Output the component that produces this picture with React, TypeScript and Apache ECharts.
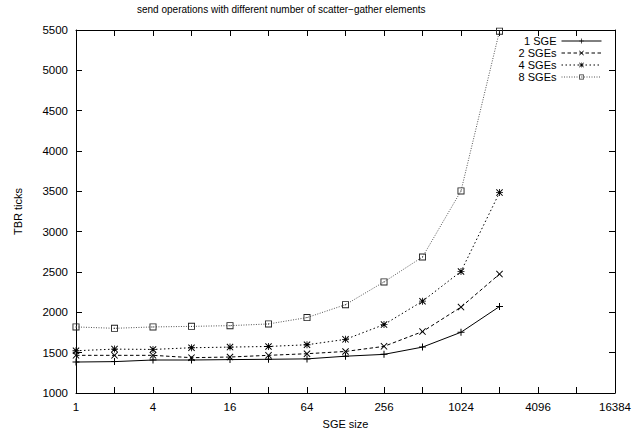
import React, { useEffect, useRef } from 'react';
import * as echarts from 'echarts';

const sgeSizes = [1, 2, 4, 8, 16, 32, 64, 128, 256, 512, 1024, 2048];
const sge1 = [1384, 1389, 1409, 1409, 1414, 1418, 1423, 1456, 1479, 1569, 1753, 2072];
const sge2 = [1467, 1467, 1467, 1438, 1446, 1467, 1487, 1515, 1578, 1761, 2065, 2474];
const sge4 = [1524, 1544, 1540, 1561, 1569, 1577, 1598, 1665, 1848, 2138, 2507, 3484];
const sge8 = [1819, 1802, 1819, 1826, 1835, 1856, 1935, 2095, 2377, 2686, 3505, 5486];
const seriesNames = ['1 SGE', '2 SGEs', '4 SGEs', '8 SGEs'];
const titleText = 'send operations with different number of scatter\u2212gather elements';

const FONT = '"Liberation Sans", Arial, Helvetica, sans-serif';

const PLUS = 'path://M3 0 H4 V3 H7 V4 H4 V7 H3 V4 H0 V3 H3 Z';
const CROSS = 'path://M0 1 L1 0 L5 4 L9 0 L10 1 L6 5 L10 9 L9 10 L5 6 L1 10 L0 9 L4 5 Z';
const STAR = 'path://M4.4 0 H5.6 V10 H4.4 Z M0 4.4 H10 V5.6 H0 Z M0 1 L1 0 L5 4 L9 0 L10 1 L6 5 L10 9 L9 10 L5 6 L1 10 L0 9 L4 5 Z';
const BOX = 'path://M0 0 H10 V10 H0 Z M1.3 1.3 V8.7 H8.7 V1.3 Z M4.3 4.3 H5.7 V5.7 H4.3 Z';

const toPairs = (vals: number[]) => sgeSizes.map((x, i) => [x, vals[i]]);

export default function App() {
  const ref = useRef<HTMLDivElement>(null);
  useEffect(() => {
    if (!ref.current) return;
    const chart = echarts.init(ref.current, undefined, { renderer: 'svg' });
    const axisLine = { show: true, lineStyle: { color: '#000', width: 1 } };
    const tick = { show: true, inside: true, length: 6, lineStyle: { color: '#000', width: 1 } };
    const xLabelFmt = (v: number) => {
      const e = Math.round(Math.log2(v));
      return e % 2 === 0 ? String(Math.round(v)) : '';
    };
    const mkSeries = (name: string, vals: number[], symbol: string, size: number, lineType: any, color: string, markColor: string) => ({
      name,
      type: 'line',
      data: toPairs(vals),
      symbol,
      symbolSize: size,
      showSymbol: true,
      lineStyle: { color, width: 1, type: lineType },
      itemStyle: { color: markColor },
      emphasis: { disabled: true },
    });
    chart.setOption({
      animation: false,
      backgroundColor: '#fff',
      title: {
        text: titleText,
        left: 132,
        top: -1,
        textStyle: { fontSize: 10, fontWeight: 'normal', color: '#000', fontFamily: FONT },
      },
      legend: {
        data: seriesNames,
        orient: 'vertical',
        right: 34,
        top: 30,
        align: 'right',
        itemWidth: 40,
        itemHeight: 6,
        itemGap: 0,
        lineStyle: { width: 1 },
        textStyle: { fontSize: 11, lineHeight: 12, color: '#000', fontFamily: FONT },
      },
      grid: { left: 76, right: 26, top: 30, bottom: 38 },
      xAxis: [
        {
          type: 'log',
          logBase: 2,
          min: 1,
          max: 16384,
          interval: 1,
          name: 'SGE size',
          nameLocation: 'middle',
          nameGap: 25,
          nameTextStyle: { fontSize: 11, color: '#000', fontFamily: FONT },
          axisLine,
          axisTick: tick,
          splitLine: { show: false },
          minorTick: { show: false },
          axisLabel: { fontSize: 11.5, color: '#000', fontFamily: FONT, margin: 8, formatter: xLabelFmt, showMinLabel: true, showMaxLabel: true },
        },
        {
          type: 'log',
          logBase: 2,
          min: 1,
          max: 16384,
          interval: 1,
          position: 'top',
          axisLine,
          axisTick: tick,
          splitLine: { show: false },
          axisLabel: { show: false },
        },
      ],
      yAxis: [
        {
          type: 'value',
          min: 1000,
          max: 5500,
          interval: 500,
          name: 'TBR ticks',
          nameLocation: 'middle',
          nameGap: 53,
          nameRotate: 90,
          nameTextStyle: { fontSize: 11, color: '#000', fontFamily: FONT },
          axisLine,
          axisTick: tick,
          splitLine: { show: false },
          axisLabel: { fontSize: 11.5, color: '#000', fontFamily: FONT, margin: 8, formatter: (v: number) => String(v) },
        },
        {
          type: 'value',
          min: 1000,
          max: 5500,
          interval: 500,
          position: 'right',
          axisLine,
          axisTick: tick,
          splitLine: { show: false },
          axisLabel: { show: false },
        },
      ],
      series: [
        mkSeries('1 SGE', sge1, PLUS, 7, 'solid', '#000', '#000'),
        mkSeries('2 SGEs', sge2, CROSS, 7, [3.5, 2.5], '#000', '#000'),
        mkSeries('4 SGEs', sge4, STAR, 7, [1.5, 2.5], '#000', '#000'),
        mkSeries('8 SGEs', sge8, BOX, 7, [1, 1.5], '#555', '#222'),
      ],
    });
    return () => chart.dispose();
  }, []);
  return <div ref={ref} style={{ position: 'fixed', left: 0, top: 0, width: 641, height: 434 }} />;
}
